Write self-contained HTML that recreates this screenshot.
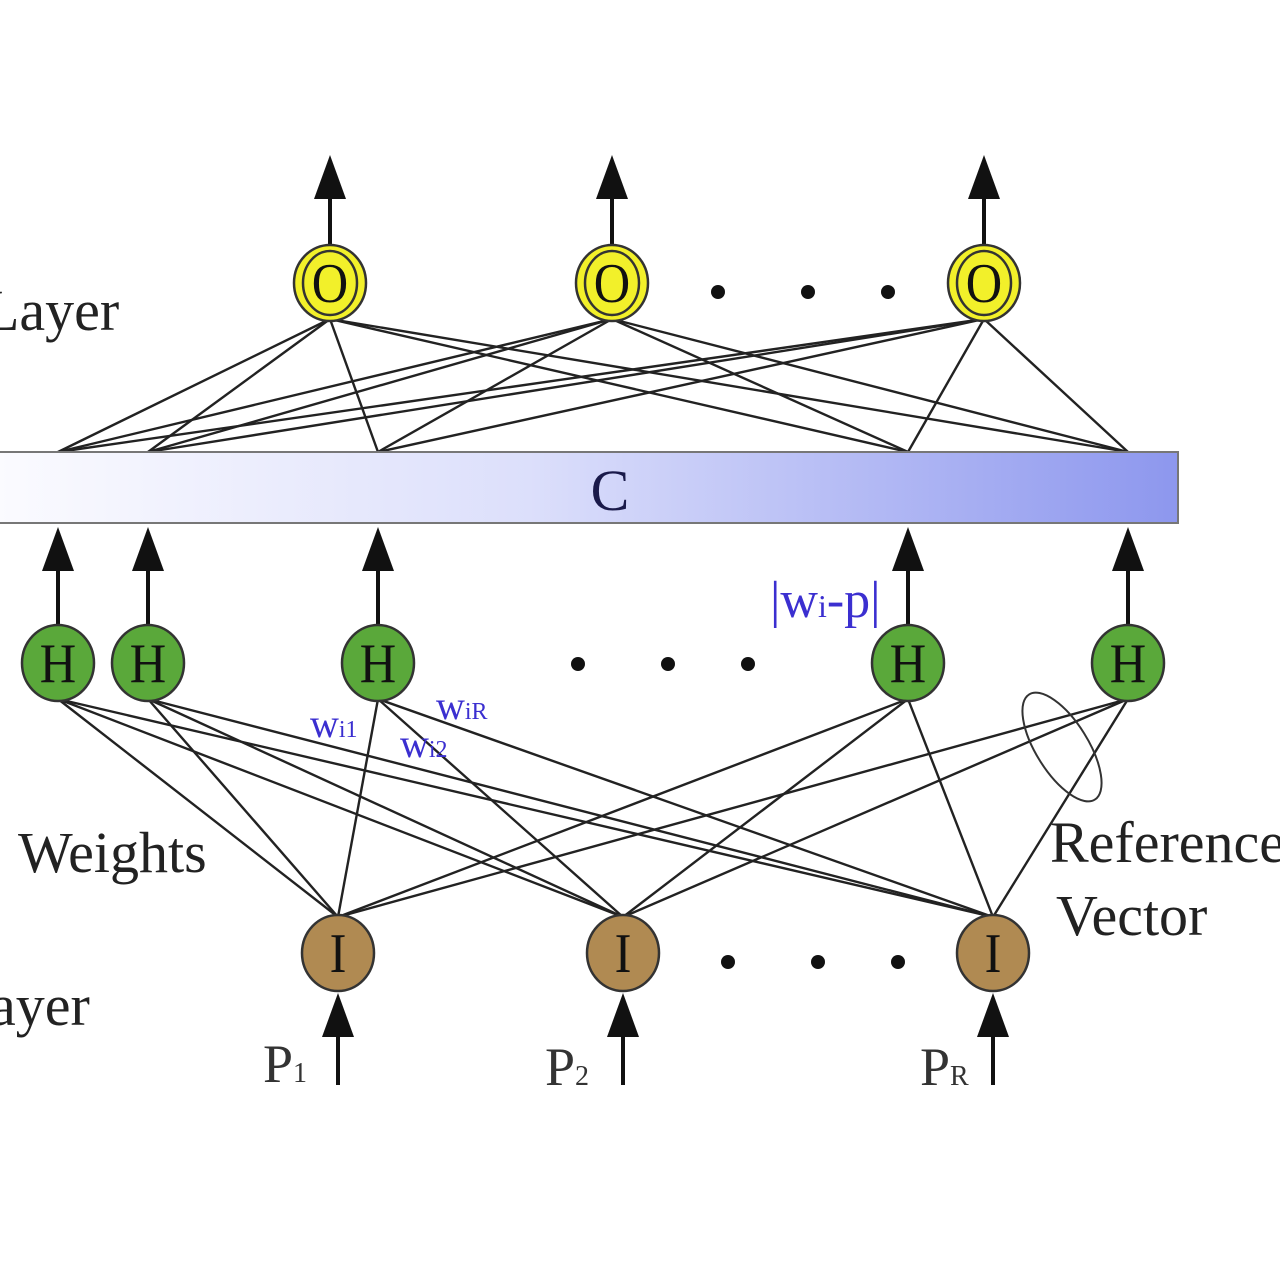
<!DOCTYPE html>
<html><head><meta charset="utf-8"><style>
html,body{margin:0;padding:0;background:#fff;}
svg{display:block;}
text{font-family:"Liberation Serif",serif;}
</style></head><body>
<svg id="net" width="1280" height="1280" viewBox="0 0 1280 1280" xmlns="http://www.w3.org/2000/svg">
<defs>
<linearGradient id="cg" x1="0" x2="1" y1="0" y2="0">
<stop offset="0" stop-color="#fbfbff"/><stop offset="0.45" stop-color="#dcdffb"/><stop offset="1" stop-color="#8d97ee"/>
</linearGradient>
</defs>
<g id="edges"></g>
<rect x="-2" y="452" width="1180" height="71" fill="url(#cg)" stroke="#777" stroke-width="2"/>
<text x="610" y="510" font-size="58" text-anchor="middle" fill="#1a1a4a">C</text>
<g id="nodes"></g>
<text x="-16" y="330" font-size="58" fill="#222">Layer</text>
<text x="18" y="872" font-size="58" fill="#222">Weights</text>
<text x="-10" y="1025" font-size="58" fill="#222">ayer</text>
<text x="1050" y="862" font-size="58" fill="#222">Reference</text>
<text x="1056" y="935" font-size="58" fill="#222">Vector</text>
<text x="770" y="617" font-size="52" fill="#3b2fd0">|w<tspan font-size="32">i</tspan>-p|</text>
<text x="310" y="737" font-size="40" fill="#3b2fd0">w<tspan font-size="24">i1</tspan></text>
<text x="400" y="757" font-size="40" fill="#3b2fd0">w<tspan font-size="24">i2</tspan></text>
<text x="436" y="719" font-size="40" fill="#3b2fd0">w<tspan font-size="24">iR</tspan></text>
<ellipse cx="1062" cy="747" rx="26" ry="62" transform="rotate(-32 1062 747)" fill="none" stroke="#333" stroke-width="2"/>
<text x="263" y="1082" font-size="54" fill="#333">P<tspan font-size="28">1</tspan></text>
<text x="545" y="1085" font-size="54" fill="#333">P<tspan font-size="28">2</tspan></text>
<text x="920" y="1085" font-size="54" fill="#333">P<tspan font-size="28">R</tspan></text>
</svg>
<script>
const outputX = [330, 612, 984];
const barTopX = [58, 148, 378, 908, 1128];
const hiddenX = [58, 148, 378, 908, 1128];
const inputX = [338, 623, 993];
const outputY = 283, barTop = 452, barBottom = 523, hiddenY = 663, inputY = 953, RX = 36, RY = 38;
const ns = 'http://www.w3.org/2000/svg';
const edges = document.getElementById('edges'), nodes = document.getElementById('nodes');
function mk(tag, attrs, parent){const e=document.createElementNS(ns,tag);for(const k in attrs)e.setAttribute(k,attrs[k]);parent.appendChild(e);return e;}
function line(x1,y1,x2,y2,w,name){const l=mk('line',{x1:x1,y1:y1,x2:x2,y2:y2,stroke:'#222','stroke-width':w},edges);

}
function arrow(x,yTail,yTip,name){const g=mk('g',{},edges);


mk('line',{x1:x,y1:yTail,x2:x,y2:yTip+40,stroke:'#111','stroke-width':4},g);
mk('polygon',{points:`${x},${yTip} ${x-16},${yTip+44} ${x+16},${yTip+44}`,fill:'#111'},g);}
outputX.forEach(ox=>barTopX.forEach(bx=>line(ox,outputY+RY-2,bx,barTop,2.4,'output-connection')));
hiddenX.forEach(hx=>inputX.forEach(ix=>line(hx,hiddenY+RY-2,ix,inputY-RY+2,2.4,'hidden-input-connection')));
outputX.forEach(ox=>arrow(ox,outputY-RY,155,'output-arrow'));
hiddenX.forEach(hx=>arrow(hx,hiddenY-RY,527,'hidden-arrow'));
inputX.forEach(ix=>arrow(ix,1085,inputY+RY+2,'input-arrow'));
function node(x,y,fill,label,name,ring){const g=mk('g',{},nodes);


mk('ellipse',{cx:x,cy:y,rx:RX,ry:RY,fill:fill,stroke:'#333','stroke-width':2.5},g);
if(ring)mk('ellipse',{cx:x,cy:y,rx:RX-9,ry:RY-6,fill:'none',stroke:'#333','stroke-width':2.5},g);
const t=mk('text',{x:x,y:y+19,'font-size':56,'text-anchor':'middle',fill:'#111',transform:`translate(${x} 0) scale(0.9 1) translate(${-x} 0)`},g);t.textContent=label;}
outputX.forEach(x=>node(x,outputY,'#f2f02a','O','output-node',true));
hiddenX.forEach(x=>node(x,hiddenY,'#5aa83a','H','hidden-node',false));
inputX.forEach(x=>node(x,inputY,'#b08a52','I','input-node',false));
function dots(xs,y,name){xs.forEach(x=>{const c=mk('circle',{cx:x,cy:y,r:7,fill:'#111'},nodes);

});}
dots([718,808,888],292,'output-ellipsis');
dots([578,668,748],664,'hidden-ellipsis');
dots([728,818,898],962,'input-ellipsis');
</script>
</body></html>
